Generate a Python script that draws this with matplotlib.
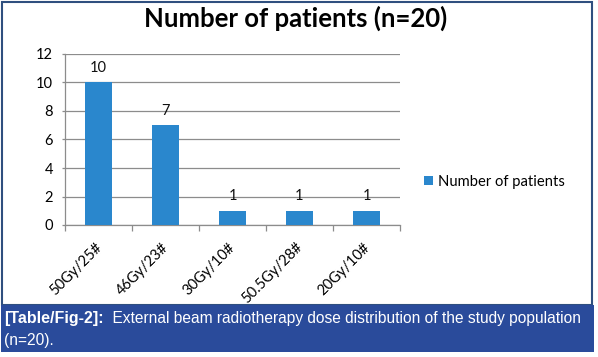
import matplotlib
matplotlib.use("Agg")
import matplotlib.pyplot as plt
from matplotlib.patches import Rectangle
from matplotlib.transforms import ScaledTranslation

# data
doses = ["50Gy/25#", "46Gy/23#", "30Gy/10#", "50.5Gy/28#", "20Gy/10#"]
patients = [10, 7, 1, 1, 1]
y_ticks = [0, 2, 4, 6, 8, 10, 12]
title = "Number of patients (n=20)"
series_name = "Number of patients"
caption_bold = "[Table/Fig-2]:"
caption_rest = "  External beam radiotherapy dose distribution of the study population"
caption_line2 = "(n=20)."

BAR = "#2a87cd"
GRID = "#8c8c8c"
NAVY = "#2a4b9b"
W, H = 598, 357

plt.rcParams["font.family"] = ["Lato", "DejaVu Sans"]

fig = plt.figure(figsize=(W / 100, H / 100), dpi=100)
ax = fig.add_axes([65 / W, 1 - 225 / H, 335 / W, 171 / H])

x = list(range(len(doses)))
bars = ax.bar(x, patients, width=0.39, color=BAR, label=series_name, zorder=3)
for xi, v in zip(x, patients):
    ax.annotate(str(v), (xi, v), xytext=(0, 10.5), textcoords="offset points",
                ha="center", va="center", fontsize=10.5, color="#111111")

ax.set_xlim(-0.5, len(doses) - 0.5)
ax.set_ylim(0, 12)
ax.set_yticks(y_ticks)
ax.grid(axis="y", color=GRID, linewidth=0.9, zorder=0)
ax.tick_params(axis="y", length=2.5, width=0.9, color=GRID, pad=6, labelsize=10.5)

# category boundary ticks on the x axis, labels at the centres
ax.set_xticks([i - 0.5 for i in range(len(doses) + 1)])
ax.set_xticklabels([])
ax.set_xticks(x, minor=True)
ax.set_xticklabels(doses, minor=True, rotation=45, ha="right",
                   rotation_mode="anchor", fontsize=10.5)
ax.tick_params(axis="x", which="major", length=4, width=0.9, color=GRID)
ax.tick_params(axis="x", which="minor", length=0, pad=11)
shift = ScaledTranslation(-4 / 100, 0, fig.dpi_scale_trans)
for lab in ax.get_xticklabels(minor=True):
    lab.set_transform(lab.get_transform() + shift)

for side in ["top", "right"]:
    ax.spines[side].set_visible(False)
for side in ["left", "bottom"]:
    ax.spines[side].set_color(GRID)
    ax.spines[side].set_linewidth(0.9)

fig.text(296 / W, 1 - 18 / H, title, ha="center", va="center",
         fontsize=18.5, fontweight="bold")

fig.legend(handles=[bars], loc="center left", bbox_to_anchor=(424 / W, 1 - 182 / H),
           frameon=False, fontsize=10.6, handlelength=0.6, handleheight=0.6,
           handletextpad=0.35, borderpad=0, borderaxespad=0)

# chart frame and caption box
fig.patches.append(Rectangle((1.5 / W, 1 - 305 / H), 590 / W, 303 / H,
                             transform=fig.transFigure, fill=False,
                             edgecolor="#2f4f7f", linewidth=1.5))
fig.patches.append(Rectangle((1 / W, 1 - 352 / H), 593 / W, 47 / H,
                             transform=fig.transFigure, facecolor=NAVY,
                             edgecolor="none"))

cap_font = ["Liberation Sans", "DejaVu Sans"]
t = fig.text(4 / W, 1 - 319 / H, caption_bold, ha="left", va="center",
             fontsize=11.5, fontweight="bold", color="white", family=cap_font)
fig.canvas.draw()
bb = t.get_window_extent()
fig.text(bb.x1 / W, 1 - 319 / H, caption_rest, ha="left", va="center",
         fontsize=11.2, color="white", family=cap_font)
fig.text(4 / W, 1 - 341 / H, caption_line2, ha="left", va="center",
         fontsize=11.2, color="white", family=cap_font)

fig.savefig("out.png", dpi=100)
